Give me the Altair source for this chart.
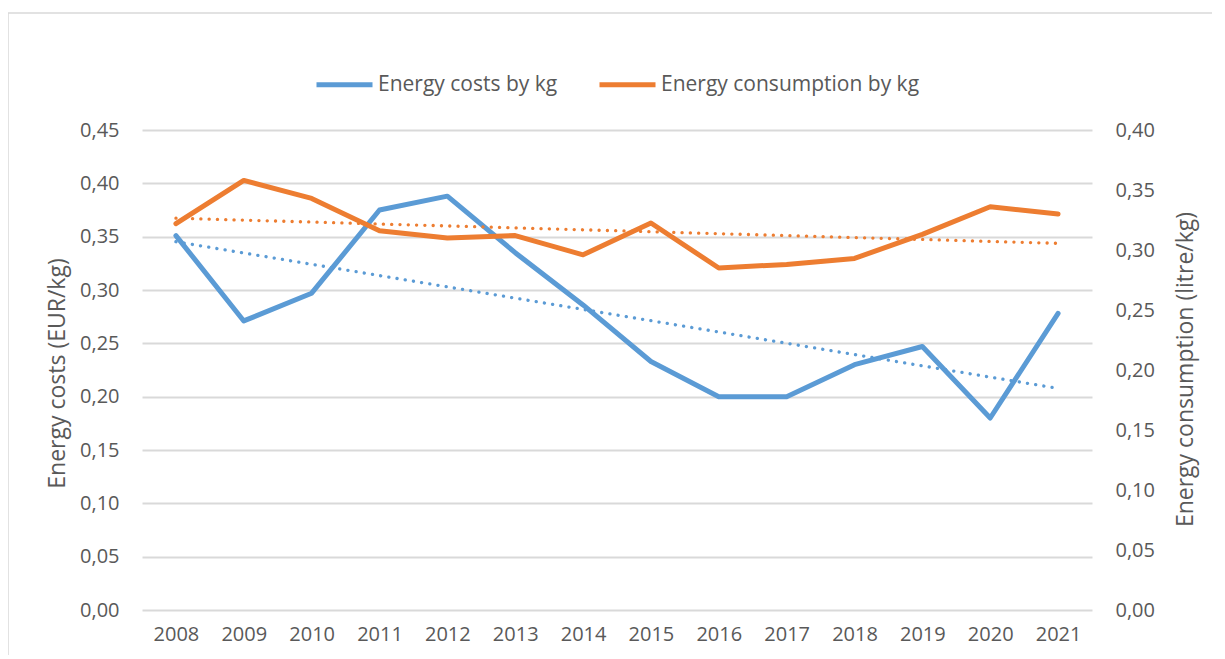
import altair as alt
import pandas as pd

years = list(range(2008, 2022))
energy_costs = [0.351, 0.271, 0.297, 0.375, 0.388, 0.335, 0.286, 0.233, 0.200, 0.200, 0.230, 0.247, 0.180, 0.278]
energy_consumption = [0.322, 0.358, 0.343, 0.316, 0.310, 0.312, 0.296, 0.3225, 0.285, 0.288, 0.293, 0.313, 0.336, 0.330]
series_names = ["Energy costs by kg", "Energy consumption by kg"]
left_ticks = [0.00, 0.05, 0.10, 0.15, 0.20, 0.25, 0.30, 0.35, 0.40, 0.45]
right_ticks = [0.00, 0.05, 0.10, 0.15, 0.20, 0.25, 0.30, 0.35, 0.40]

BLUE = "#5B9BD5"
ORANGE = "#ED7D31"
TEXT = "#595959"
GRID = "#D9D9D9"
FONT = "Open Sans"

costs_df = pd.DataFrame({"year": years, "value": energy_costs, "series": series_names[0]})
cons_df = pd.DataFrame({"year": years, "value": energy_consumption, "series": series_names[1]})

label_expr = "replace(format(datum.value, '.2f'), '.', ',')"

x_enc = alt.X(
    "year:Q",
    scale=alt.Scale(domain=[2007.5, 2021.5], nice=False, zero=False),
    axis=alt.Axis(values=years, format="d", title=None, grid=False, domain=False,
                  ticks=False, labelPadding=14, labelFontSize=20, labelColor=TEXT,
                  labelFont=FONT),
)

color_enc = alt.Color(
    "series:N",
    scale=alt.Scale(domain=series_names, range=[BLUE, ORANGE]),
    legend=alt.Legend(orient="none", legendX=172, legendY=-76, direction="horizontal",
                      title=None, symbolType="stroke", symbolStrokeWidth=5,
                      symbolSize=3136, labelFontSize=21, labelColor=TEXT, labelFont=FONT,
                      labelLimit=0, columnPadding=31, labelOffset=3),
)

y_left = alt.Y(
    "value:Q",
    scale=alt.Scale(domain=[0, 0.45], nice=False),
    axis=alt.Axis(orient="left", values=left_ticks, labelExpr=label_expr,
                  title="Energy costs (EUR/kg)", grid=True, gridColor=GRID, gridWidth=1.8,
                  domain=False, ticks=False, labelPadding=23,
                  titleX=-85, titleY=243, titleAngle=270, titleAlign="center",
                  titleBaseline="middle",
                  labelFontSize=20, labelColor=TEXT, labelFont=FONT,
                  titleFontSize=23, titleColor=TEXT, titleFont=FONT, titleFontWeight="normal"),
)

y_right = alt.Y(
    "value:Q",
    scale=alt.Scale(domain=[0, 0.40], nice=False),
    axis=alt.Axis(orient="right", values=right_ticks, labelExpr=label_expr,
                  title="Energy consumption (litre/kg)", grid=False,
                  domain=False, ticks=False, labelPadding=23,
                  titleX=93, titleY=239, titleAngle=270, titleAlign="center",
                  titleBaseline="middle",
                  labelFontSize=20, labelColor=TEXT, labelFont=FONT,
                  titleFontSize=23, titleColor=TEXT, titleFont=FONT, titleFontWeight="normal"),
)

line_kw = dict(strokeWidth=5, strokeCap="round", strokeJoin="round")
dot_kw = dict(strokeWidth=3.3, strokeCap="round", strokeDash=[0.1, 8.2])

cost_line = alt.Chart(costs_df).mark_line(**line_kw).encode(x=x_enc, y=y_left, color=color_enc)
cost_trend = alt.Chart(costs_df).transform_regression("year", "value").mark_line(
    color=BLUE, **dot_kw).encode(x=x_enc, y=y_left)

cons_line = alt.Chart(cons_df).mark_line(**line_kw).encode(x=x_enc, y=y_right, color=color_enc)
cons_trend = alt.Chart(cons_df).transform_regression("year", "value").mark_line(
    color=ORANGE, **dot_kw).encode(x=x_enc, y=y_right)

left_layer = alt.layer(cost_line, cost_trend)
right_layer = alt.layer(cons_line, cons_trend)

border = alt.Chart(pd.DataFrame({"a": [0]})).mark_rect(
    fill=None, stroke=GRID, strokeWidth=1.5).encode(
    x=alt.value(-134), x2=alt.value(1100), y=alt.value(-117), y2=alt.value(700))

chart = alt.layer(border, left_layer, right_layer).resolve_scale(y="independent").properties(
    width=950, height=480,
    autosize=alt.AutoSizeParams(type="none"),
    padding={"left": 134, "top": 122, "right": 120, "bottom": 45},
    background="white",
).configure_view(stroke=None)

chart.save("out.html", embed_options={"renderer": "svg", "actions": False})
